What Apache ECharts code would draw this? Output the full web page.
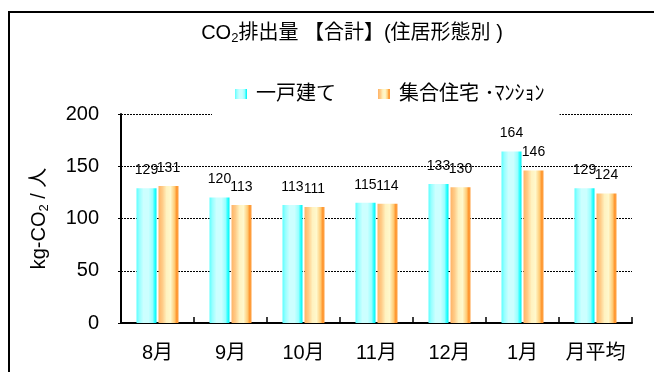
<!DOCTYPE html>
<html>
<head>
<meta charset="utf-8">
<script src="https://cdn.jsdelivr.net/npm/echarts@6/dist/echarts.min.js"></script>
<style>
  html, body { margin: 0; padding: 0; background: #fff; }
  #chart { width: 654px; height: 372px; }
</style>
</head>
<body>
<div id="chart"></div>
<script>
// Monthly CO2 emissions per person, by housing type
const months = ['8月', '9月', '10月', '11月', '12月', '1月', '月平均'];
const detachedName = '一戸建て';
const apartmentName = '集合住宅 ･ﾏﾝｼｮﾝ';
const detachedValues = [129, 120, 113, 115, 133, 164, 129];
const apartmentValues = [131, 113, 111, 114, 130, 146, 124];
const yTicks = { min: 0, max: 200, interval: 50 };

const FONT = '"Liberation Sans", Arial, "Noto Sans CJK JP", sans-serif';

function stripes(stops) {
  return {
    type: 'linear', x: 0, y: 0, x2: 1, y2: 0,
    colorStops: stops.map(([offset, color]) => ({ offset, color }))
  };
}

const cyanFill = stripes([
  [0, '#5CFFFF'], [0.15, '#99FFFF'], [0.35, '#CCFFFF'],
  [0.6, '#CCFFFF'], [0.8, '#99FFFF'], [0.9, '#33FFFF'], [1, '#00F0F0']
]);
const orangeFill = stripes([
  [0, '#FFB366'], [0.2, '#FFCC88'], [0.4, '#FFF2C0'],
  [0.6, '#FFF8CC'], [0.8, '#FFCC77'], [0.9, '#FF9933'], [1, '#FFA040']
]);

const valueLabel = {
  show: true,
  position: 'top',
  distance: 11,
  color: '#000',
  fontSize: 14,
  fontFamily: FONT
};

const chart = echarts.init(document.getElementById('chart'), null, { renderer: 'canvas' });

chart.setOption({
  backgroundColor: '#fff',
  animation: false,
  textStyle: { fontFamily: FONT, color: '#000' },
  graphic: [
    {
      type: 'rect',
      z: 0,
      shape: { x: 9, y: 12, width: 900, height: 600 },
      style: { fill: 'none', stroke: '#000', lineWidth: 2 }
    },
    {
      type: 'text',
      z: 10,
      x: 352,
      y: 33,
      style: {
        text: '{a|CO}{s|2}{a|排出量 【合計】(住居形態別 )}',
        align: 'center',
        verticalAlign: 'middle',
        rich: {
          a: { fontSize: 20, fontFamily: FONT, fill: '#000', color: '#000' },
          s: { fontSize: 13, fontFamily: FONT, fill: '#000', color: '#000', padding: [11, 0, 0, 0] }
        }
      }
    }
  ],
  legend: {
    left: 212,
    top: 78,
    padding: [6, 15, 12, 23],
    backgroundColor: '#fff',
    icon: 'rect',
    itemWidth: 12,
    itemHeight: 10,
    itemGap: 42,
    textStyle: { fontSize: 20, color: '#000', fontFamily: FONT, padding: [0, 0, 0, 4] },
    data: [detachedName, apartmentName]
  },
  grid: {
    left: 121,
    right: 22,
    top: 114,
    bottom: 49,
    containLabel: false,
    outerBoundsMode: 'none'
  },
  xAxis: {
    type: 'category',
    data: months,
    axisLine: { show: true, lineStyle: { color: '#000', width: 2 } },
    axisTick: { show: true, inside: true, length: 6, lineStyle: { color: '#000', width: 1.5 } },
    axisLabel: { fontSize: 20, color: '#000', margin: 20, fontFamily: FONT, interval: 0 },
    splitLine: { show: false }
  },
  yAxis: {
    type: 'value',
    min: yTicks.min,
    max: yTicks.max,
    interval: yTicks.interval,
    name: '{a|kg-CO}{s|2}{a| / 人}',
    nameLocation: 'middle',
    nameGap: 70,
    nameRotate: 90,
    nameTextStyle: {
      rich: {
        a: { fontSize: 20, color: '#000', fontFamily: FONT },
        s: { fontSize: 13, color: '#000', fontFamily: FONT, padding: [11, 0, 0, 0] }
      }
    },
    axisLine: { show: true, lineStyle: { color: '#000', width: 2 } },
    axisTick: { show: true, inside: false, length: 3, lineStyle: { color: '#000', width: 1 } },
    axisLabel: { fontSize: 20, color: '#000', margin: 22, fontFamily: FONT },
    splitLine: { show: true, lineStyle: { color: '#000', width: 1, type: [2, 1] } }
  },
  series: [
    {
      name: detachedName,
      type: 'bar',
      data: detachedValues,
      barWidth: 20,
      barGap: '10%',
      itemStyle: { color: cyanFill },
      label: valueLabel
    },
    {
      name: apartmentName,
      type: 'bar',
      data: apartmentValues,
      barWidth: 20,
      barGap: '10%',
      itemStyle: { color: orangeFill },
      label: valueLabel
    }
  ]
});
</script>
</body>
</html>
